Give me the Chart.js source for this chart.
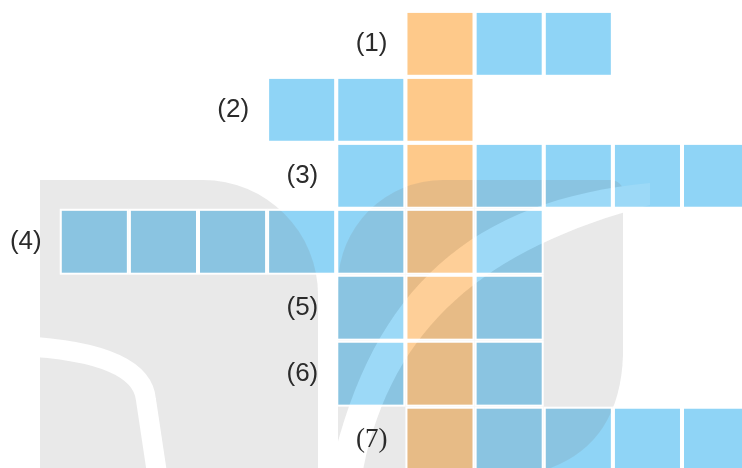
<!DOCTYPE html>
<html>
<head>
<meta charset="utf-8">
<script src="https://cdn.jsdelivr.net/npm/chart.js@4.4.0/dist/chart.umd.min.js"></script>
<style>
  html, body { margin: 0; padding: 0; background: #ffffff; }
  #wrap { width: 742px; height: 468px; }
</style>
</head>
<body>
<div id="wrap"><canvas id="grid" width="742" height="468"></canvas></div>
<script>
// crossword rows, top to bottom
const rowLabels = ['(1)', '(2)', '(3)', '(4)', '(5)', '(6)', '(7)'];
const rowStart = [5, 3, 4, 0, 4, 4, 5];   // column of the first square
const rowLength = [3, 3, 6, 7, 3, 3, 5];  // squares visible in the row
const keyColumn = 5;                      // the highlighted (orange) column
const columnCount = 10;

const blue = '#8fd4f6';
const orange = '#fec98a';

// one bar dataset per column, each square is a floating bar [c, c+1]
const datasets = [];
for (let c = 0; c < columnCount; c++) {
    const data = [];
    rowLabels.forEach((label, r) => {
        if (c >= rowStart[r] && c < rowStart[r] + rowLength[r]) {
            data.push({ y: r + 1, x: [c, c + 1] });
        }
    });
    datasets.push({
        label: 'col ' + c,
        data: data,
        backgroundColor: c === keyColumn ? orange : blue,
        borderColor: '#ffffff',
        borderWidth: 2,
        borderSkipped: false,
        grouped: false,
        categoryPercentage: 1,
        barPercentage: 1
    });
}

// faint logo behind the grid (drawn over the squares, gaps kept white)
const watermark = {
    id: 'watermark',
    afterDatasetsDraw(chart) {
        const ctx = chart.ctx;
        const off = document.createElement('canvas');
        off.width = chart.width;
        off.height = chart.height;
        const o = off.getContext('2d');
        o.fillStyle = 'rgb(118,118,118)';

        // left piece
        o.beginPath();
        o.moveTo(40, 470);
        o.lineTo(40, 180);
        o.arcTo(318, 180, 318, 300, 115);
        o.lineTo(318, 470);
        o.closePath();
        o.fill();

        // right piece (D shape)
        o.beginPath();
        o.moveTo(338, 470);
        o.lineTo(338, 290);
        o.arcTo(338, 180, 448, 180, 105);
        o.lineTo(610, 180);
        o.arcTo(623, 180, 623, 195, 12);
        o.lineTo(623, 355);
        o.quadraticCurveTo(620, 445, 545, 470);
        o.closePath();
        o.fill();

        // white swooshes cut out of the logo
        o.globalCompositeOperation = 'destination-out';
        o.strokeStyle = '#000';
        o.fillStyle = '#000';
        o.lineWidth = 20;
        o.beginPath();
        o.moveTo(20, 346);
        o.quadraticCurveTo(142, 352, 146, 400);
        o.lineTo(158, 480);
        o.stroke();

        const swoosh = new Path2D();
        swoosh.moveTo(650, 183);
        swoosh.bezierCurveTo(470, 200, 370, 290, 330, 475);
        swoosh.lineTo(362, 475);
        swoosh.bezierCurveTo(390, 330, 480, 250, 650, 205);
        swoosh.closePath();
        o.fill(swoosh);

        ctx.save();
        ctx.globalAlpha = 0.16;
        ctx.drawImage(off, 0, 0);
        ctx.globalAlpha = 1;
        ctx.fillStyle = 'rgba(255,255,255,0.12)';
        ctx.fill(swoosh);
        ctx.restore();

        // keep the gaps between squares white
        ctx.save();
        ctx.strokeStyle = '#ffffff';
        ctx.lineWidth = 2;
        chart.getSortedVisibleDatasetMetas().forEach(meta => {
            meta.data.forEach(bar => {
                const { x, y, base, height } = bar.getProps(['x', 'y', 'base', 'height'], true);
                const left = Math.min(x, base);
                const w = Math.abs(x - base);
                ctx.strokeRect(left + 1, y - height / 2 + 1, w - 2, height - 2);
            });
        });
        ctx.restore();
    }
};

// row numbers to the left of each word
const rowTags = {
    id: 'rowTags',
    afterDraw(chart) {
        const { ctx, scales: { x, y } } = chart;
        ctx.save();
        ctx.fillStyle = '#2b2b2b';
        ctx.textAlign = 'right';
        ctx.textBaseline = 'middle';
        rowLabels.forEach((label, r) => {
            ctx.font = r === 6 ? '27px "Liberation Serif"' : '26px "Liberation Sans"';
            ctx.fillText(label, x.getPixelForValue(rowStart[r]) - 18, y.getPixelForValue(r + 1));
        });
        ctx.restore();
    }
};

new Chart(document.getElementById('grid').getContext('2d'), {
    type: 'bar',
    data: { datasets: datasets },
    options: {
        indexAxis: 'y',
        responsive: false,
        animation: false,
        layout: { padding: 0 },
        plugins: {
            legend: { display: false },
            tooltip: { enabled: false }
        },
        scales: {
            x: {
                type: 'linear',
                display: false,
                offset: false,
                min: -0.8635,
                max: 9.868
            },
            y: {
                type: 'linear',
                display: false,
                offset: false,
                reverse: true,
                min: 0.336,
                max: 7.43,
                ticks: { stepSize: 1, includeBounds: false }
            }
        }
    },
    plugins: [watermark, rowTags]
});
</script>
</body>
</html>
